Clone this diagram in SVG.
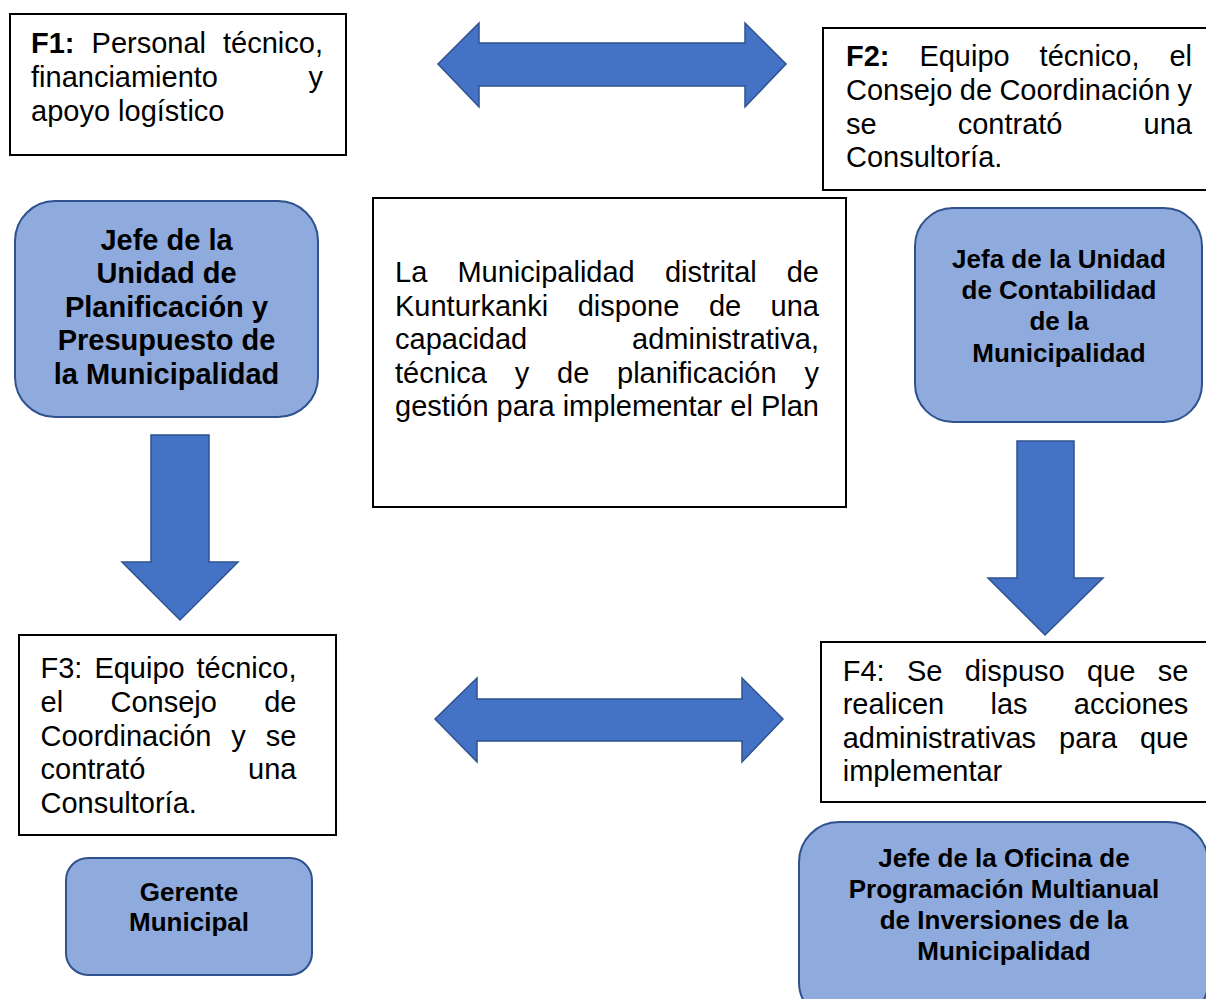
<svg xmlns="http://www.w3.org/2000/svg" width="1206" height="999" viewBox="0 0 1206 999">
<style>
.box{fill:#ffffff;stroke:#000000;stroke-width:2}
.rbox{fill:#8FAADC;stroke:#2F528F;stroke-width:2}
.arr{fill:#4472C4;stroke:#2F528F;stroke-width:1.5;stroke-linejoin:miter}
.t{font-family:"Liberation Sans",Arial,sans-serif;font-size:29px;fill:#000000}
.b{font-weight:bold}
.tb{font-family:"Liberation Sans",Arial,sans-serif;font-size:29px;font-weight:bold;fill:#000000;text-anchor:middle}
.ts{font-family:"Liberation Sans",Arial,sans-serif;font-size:26px;font-weight:bold;fill:#000000;text-anchor:middle}
.e{text-anchor:end}
</style>
<rect width="1206" height="999" fill="#ffffff"/>
<g id="connectors">
<polygon class="arr" points="438,64 479,23 479,43 745,43 745,23 786,64 745,107 745,86 479,86 479,107"/>
<polygon class="arr" points="435,719 477,678 477,699 742,699 742,678 783,719 742,762 742,741 477,741 477,762"/>
<polygon class="arr" points="151,435 209,435 209,562 238,562 180,620 122,562 151,562"/>
<polygon class="arr" points="1017,441 1074,441 1074,578 1103,578 1045,635 988,578 1017,578"/>
</g>
<g id="f1">
<rect class="box" x="10" y="14" width="336" height="141"/>
<text class="t b" x="31" y="53">F1:</text>
<text class="t" x="91.6" y="53">Personal</text>
<text class="t e" x="323" y="53">técnico,</text>
<text class="t" x="31" y="87">financiamiento</text>
<text class="t e" x="323" y="87">y</text>
<text class="t" x="31" y="121">apoyo logístico</text>
</g>
<g id="f2">
<rect class="box" x="823" y="28" width="400" height="162"/>
<text class="t b" x="846" y="66">F2:</text>
<text class="t" x="919.4" y="66">Equipo</text>
<text class="t" x="1039.6" y="66">técnico,</text>
<text class="t e" x="1192" y="66">el</text>
<text class="t" x="846" y="100">Consejo</text>
<text class="t" x="959.8" y="100">de</text>
<text class="t" x="999.4" y="100">Coordinación</text>
<text class="t e" x="1192" y="100">y</text>
<text class="t" x="846" y="134">se</text>
<text class="t" x="957.7" y="134">contrató</text>
<text class="t e" x="1192" y="134">una</text>
<text class="t" x="846" y="167">Consultoría.</text>
</g>
<g id="jefe-upp">
<rect class="rbox" x="15" y="201" width="303" height="216" rx="40"/>
<text class="tb" x="166.5" y="249.5">Jefe de la</text>
<text class="tb" x="166.5" y="283">Unidad de</text>
<text class="tb" x="166.5" y="316.5">Planificación y</text>
<text class="tb" x="166.5" y="350">Presupuesto de</text>
<text class="tb" x="166.5" y="383.5">la Municipalidad</text>
</g>
<g id="centro">
<rect class="box" x="373" y="198" width="473" height="309"/>
<text class="t" x="395" y="282">La</text>
<text class="t" x="457.4" y="282">Municipalidad</text>
<text class="t" x="664.9" y="282">distrital</text>
<text class="t e" x="819" y="282">de</text>
<text class="t" x="395" y="315.5">Kunturkanki</text>
<text class="t" x="577.7" y="315.5">dispone</text>
<text class="t" x="708.9" y="315.5">de</text>
<text class="t e" x="819" y="315.5">una</text>
<text class="t" x="395" y="349">capacidad</text>
<text class="t e" x="819" y="349">administrativa,</text>
<text class="t" x="395" y="382.5">técnica</text>
<text class="t" x="514.7" y="382.5">y</text>
<text class="t" x="557" y="382.5">de</text>
<text class="t" x="617" y="382.5">planificación</text>
<text class="t e" x="819" y="382.5">y</text>
<text class="t" x="395" y="416">gestión para implementar el Plan</text>
</g>
<g id="jefa-contabilidad">
<rect class="rbox" x="915" y="208" width="287" height="214" rx="38"/>
<text class="ts" x="1059" y="268">Jefa de la Unidad</text>
<text class="ts" x="1059" y="299">de Contabilidad</text>
<text class="ts" x="1059" y="330">de la</text>
<text class="ts" x="1059" y="362">Municipalidad</text>
</g>
<g id="f3">
<rect class="box" x="19" y="635" width="317" height="200"/>
<text class="t" x="40.5" y="678">F3:</text>
<text class="t" x="94.4" y="678">Equipo</text>
<text class="t e" x="296.5" y="678">técnico,</text>
<text class="t" x="40.5" y="712">el</text>
<text class="t" x="110.5" y="712">Consejo</text>
<text class="t e" x="296.5" y="712">de</text>
<text class="t" x="40.5" y="745.5">Coordinación</text>
<text class="t" x="231.3" y="745.5">y</text>
<text class="t e" x="296.5" y="745.5">se</text>
<text class="t" x="40.5" y="779">contrató</text>
<text class="t e" x="296.5" y="779">una</text>
<text class="t" x="40.5" y="813">Consultoría.</text>
</g>
<g id="f4">
<rect class="box" x="821" y="642" width="400" height="160"/>
<text class="t" x="842.7" y="681">F4:</text>
<text class="t" x="906.9" y="681">Se</text>
<text class="t" x="964.7" y="681">dispuso</text>
<text class="t" x="1086.9" y="681">que</text>
<text class="t e" x="1188.3" y="681">se</text>
<text class="t" x="842.7" y="714">realicen</text>
<text class="t" x="990.5" y="714">las</text>
<text class="t e" x="1188.3" y="714">acciones</text>
<text class="t" x="842.7" y="747.5">administrativas</text>
<text class="t" x="1059" y="747.5">para</text>
<text class="t e" x="1188.3" y="747.5">que</text>
<text class="t" x="842.7" y="781">implementar</text>
</g>
<g id="gerente">
<rect class="rbox" x="66" y="858" width="246" height="117" rx="22"/>
<text class="ts" x="189" y="901">Gerente</text>
<text class="ts" x="189" y="931">Municipal</text>
</g>
<g id="jefe-opmi">
<rect class="rbox" x="799" y="822" width="409" height="200" rx="40"/>
<text class="ts" x="1004" y="867">Jefe de la Oficina de</text>
<text class="ts" x="1004" y="898">Programación Multianual</text>
<text class="ts" x="1004" y="929">de Inversiones de la</text>
<text class="ts" x="1004" y="960">Municipalidad</text>
</g>
</svg>
